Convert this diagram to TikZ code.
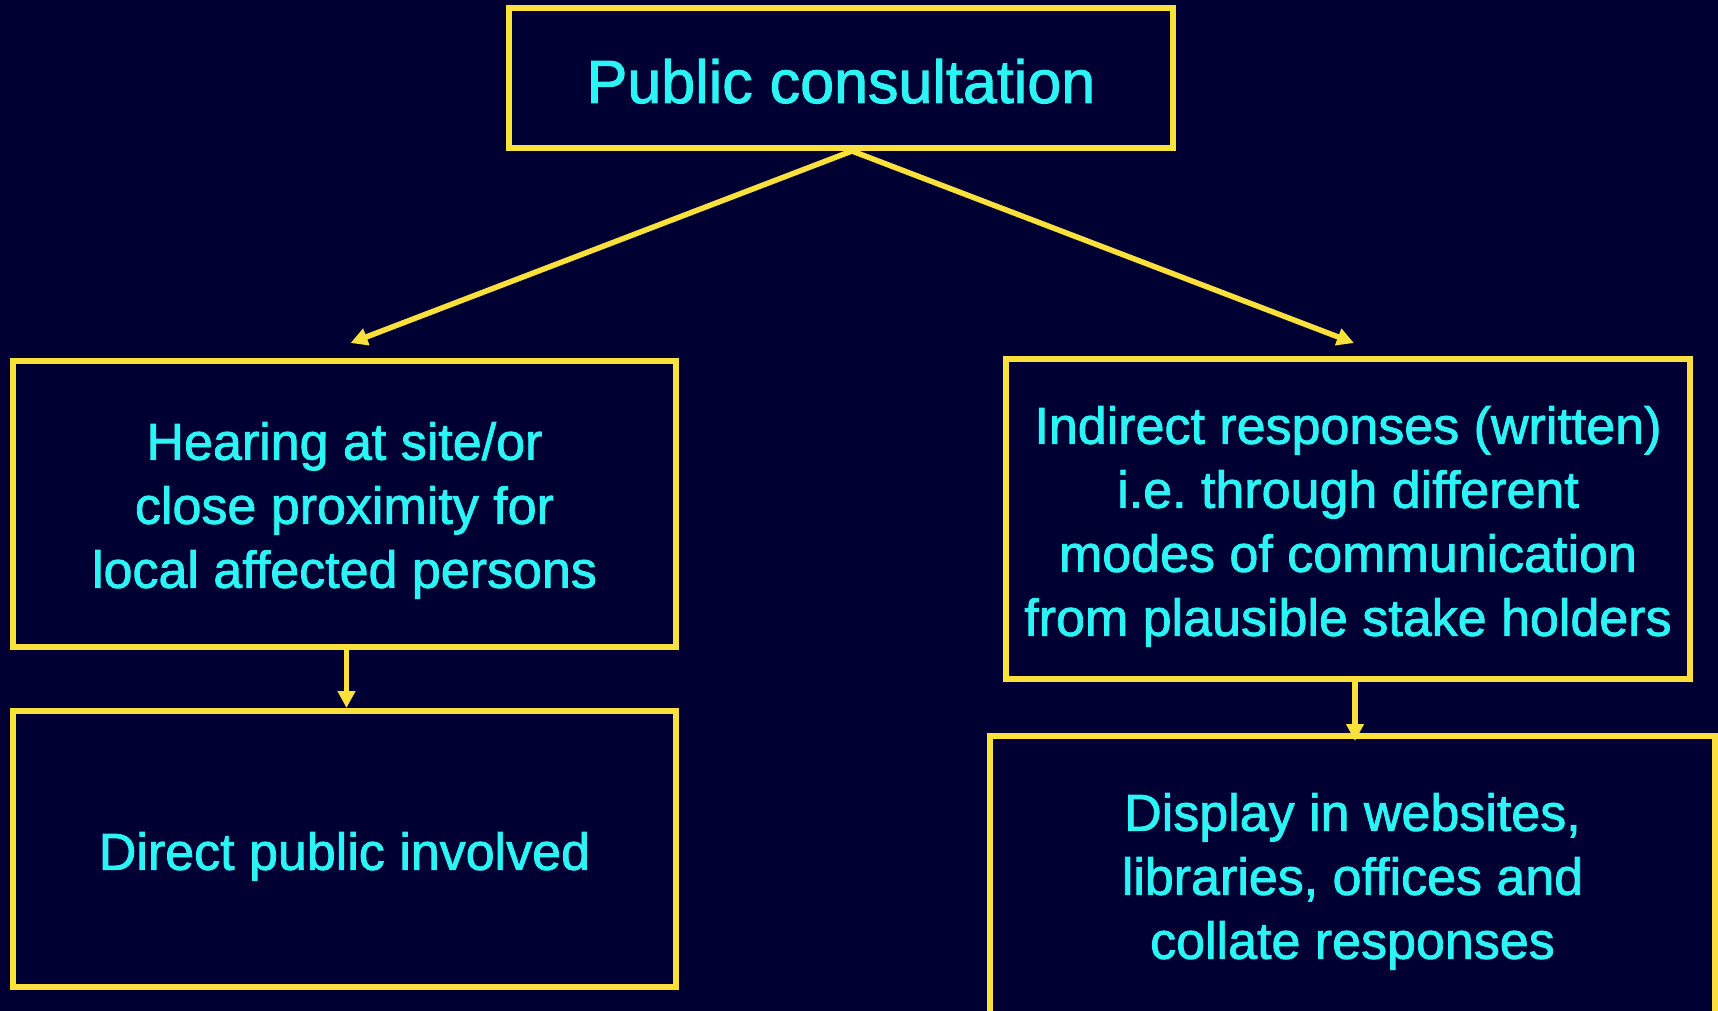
\documentclass[tikz,border=0pt]{standalone}
\usepackage{fontspec}
\setmainfont{Liberation Sans}[FakeBold=1.6]
\usetikzlibrary{arrows.meta}
\definecolor{navy}{HTML}{000033}
\definecolor{boxyellow}{HTML}{FAE03A}
\definecolor{textcyan}{HTML}{2CF4F4}
\newcommand{\boxtext}[2][7pt]{\raisebox{-#1}[\height][\depth]{\begin{tabular}{@{}c@{}}#2\end{tabular}}}
\frenchspacing
\begin{document}
\begin{tikzpicture}[x=1pt,y=-1pt,
  box/.style={draw=boxyellow, line width=6pt, text=textcyan, inner sep=0pt, font=\fontsize{52}{64}\selectfont},
  flow/.style={draw=boxyellow, line width=5.5pt, -{Triangle[length=17pt,width=17pt]}}]
\useasboundingbox[fill=navy] (0,0) rectangle (1718,1011);

\node[box, minimum width=664pt, minimum height=140pt, font=\fontsize{61}{70}\selectfont] (consult) at (841,78) {\boxtext[11pt]{Public consultation}};
\node[box, minimum width=663pt, minimum height=286pt] (hearing) at (344.5,504) {\boxtext{Hearing at site/or\\close proximity for\\local affected persons}};
\node[box, minimum width=663pt, minimum height=276pt] (direct) at (344.5,849) {\boxtext[8pt]{Direct public involved}};
\node[box, minimum width=684pt, minimum height=320pt] (indirect) at (1348,519) {\boxtext[8pt]{Indirect responses (written)\\i.e. through different\\modes of communication\\from plausible stake holders}};
\node[box, minimum width=725pt, minimum height=284pt] (display) at (1352.5,878) {\boxtext[4pt]{Display in websites,\\libraries, offices and\\collate responses}};

\coordinate (fork) at ([xshift=11pt]consult.south);
\draw[flow] (fork) -- ([xshift=6pt,yshift=15pt]hearing.north);
\draw[flow] (fork) -- ([xshift=6pt,yshift=13pt]indirect.north);
\draw[flow] ([xshift=2pt]hearing.south) -- ([xshift=2pt]direct.north);
\draw[flow, shorten >=-8pt] ([xshift=7pt]indirect.south) -- ([xshift=7pt]indirect.south |- display.north);
\end{tikzpicture}
\end{document}
